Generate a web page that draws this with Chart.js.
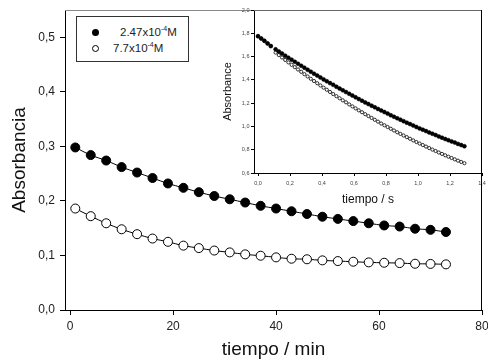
<!DOCTYPE html>
<html><head><meta charset="utf-8">
<script src="https://cdn.jsdelivr.net/npm/chart.js@4.4.1/dist/chart.umd.min.js"></script>
<style>
html,body{margin:0;padding:0;background:#fff;}
#wrap{position:relative;width:488px;height:362px;overflow:hidden;font-family:"Liberation Sans",Arial,sans-serif;color:#222;}
#main{position:absolute;left:0;top:0;}
#inset{position:absolute;left:200px;top:0;}
#legend{position:absolute;left:76px;top:16px;width:113px;height:46px;border:1px solid #333;box-sizing:border-box;background:#fff;}
.row{position:absolute;font-size:11.5px;line-height:12px;white-space:nowrap;}
.row sup{font-size:7px;vertical-align:5px;line-height:0;}
.mk{position:absolute;width:7px;height:7px;border-radius:50%;box-sizing:border-box;}
</style></head>
<body>
<div id="wrap">
  <canvas id="main" width="488" height="362"></canvas>
  <canvas id="inset" width="288" height="215"></canvas>
  <div id="legend">
    <div class="mk" style="left:15px;top:12px;background:#000;"></div>
    <div class="row" style="left:43px;top:9px;">2.47x10<sup>-4</sup>M</div>
    <div class="mk" style="left:15px;top:28px;border:1px solid #000;background:#fff;"></div>
    <div class="row" style="left:36px;top:25px;">7.7x10<sup>-4</sup>M</div>
  </div>
</div>
<script>
// ---- main chart data ----
const minutes = [1,4,7,10,13,16,19,22,25,28,31,34,37,40,43,46,49,52,55,58,61,64,67,70,73];
const abs247 = [0.298,0.284,0.274,0.262,0.252,0.242,0.232,0.224,0.216,0.209,0.203,0.197,0.191,0.186,0.181,0.176,0.171,0.167,0.163,0.159,0.155,0.153,0.149,0.147,0.143];
const abs77  = [0.186,0.172,0.159,0.148,0.139,0.131,0.125,0.118,0.1135,0.109,0.1056,0.102,0.0995,0.0965,0.094,0.093,0.091,0.0897,0.0885,0.0873,0.0866,0.086,0.0848,0.0845,0.0837];
const mainXTicks = [0,20,40,60,80];
const mainYTicks = [0,0.1,0.2,0.3,0.4,0.5];

// ---- inset data ----
const seconds = [0,0.02,0.04,0.06,0.08,
 0.11,0.13,0.15,0.17,0.19,0.21,0.23,0.25,0.27,0.29,0.31,0.33,0.35,0.37,0.39,
 0.41,0.43,0.45,0.47,0.49,0.51,0.53,0.55,0.57,0.59,0.61,0.63,0.65,0.67,0.69,
 0.71,0.73,0.75,0.77,0.79,0.81,0.83,0.85,0.87,0.89,0.91,0.93,0.95,0.97,0.99,
 1.01,1.03,1.05,1.07,1.09,1.11,1.13,1.15,1.17,1.19,1.21,1.23,1.25,1.27,1.29];
const insetFilled = [1.775,1.755,1.735,1.713,1.690,
 1.662,1.644,1.626,1.608,1.590,1.573,1.555,1.538,1.521,1.504,1.487,1.470,1.453,1.437,1.421,
 1.404,1.388,1.372,1.357,1.341,1.325,1.310,1.295,1.280,1.265,1.250,1.235,1.221,1.206,1.192,
 1.178,1.164,1.150,1.137,1.123,1.110,1.096,1.083,1.070,1.058,1.045,1.032,1.020,1.008,0.995,
 0.983,0.972,0.960,0.948,0.937,0.926,0.914,0.903,0.892,0.882,0.871,0.861,0.850,0.840,0.830];
const insetOpen = [1.775,1.755,1.735,1.713,1.690,
 1.634,1.613,1.592,1.571,1.550,1.529,1.509,1.489,1.469,1.449,1.429,1.409,1.390,1.371,1.352,
 1.333,1.315,1.296,1.278,1.260,1.242,1.224,1.207,1.189,1.172,1.155,1.138,1.122,1.105,1.089,
 1.073,1.057,1.041,1.025,1.010,0.995,0.980,0.965,0.950,0.936,0.922,0.908,0.894,0.880,0.866,
 0.853,0.840,0.827,0.814,0.801,0.789,0.776,0.764,0.752,0.740,0.729,0.717,0.706,0.695,0.684];
const insetXTicks = [0,0.2,0.4,0.6,0.8,1.0,1.2,1.4];
const insetYTicks = [0.6,0.8,1.0,1.2,1.4,1.6,1.8,2.0];

const FAM = '"Liberation Sans", Arial, sans-serif';
const fmt1 = v => Number(v).toFixed(1).replace('.', ',');
const fmt0 = v => String(Math.round(v));
const pts = (xs, ys) => xs.map((x, i) => ({x, y: ys[i]}));

const framePlugin = {
  id: 'frame',
  beforeDraw(chart, args, o) {
    if (o.fill) {
      const a = chart.chartArea, c = chart.ctx;
      c.save(); c.fillStyle = o.fill; c.fillRect(a.left, a.top, a.right - a.left, a.bottom - a.top); c.restore();
    }
  },
  afterDraw(chart, args, o) {
    const a = chart.chartArea, c = chart.ctx;
    c.save(); c.lineWidth = 1;
    c.strokeStyle = o.top; c.beginPath(); c.moveTo(a.left, a.top + 0.5); c.lineTo(a.right, a.top + 0.5); c.stroke();
    c.strokeStyle = o.right; c.beginPath(); c.moveTo(a.right - 0.5, a.top); c.lineTo(a.right - 0.5, a.bottom); c.stroke();
    c.restore();
  }
};

function axis(opts) {
  return {
    type: 'linear', min: opts.min, max: opts.max, position: opts.pos,
    afterBuildTicks: ax => { ax.ticks = opts.ticks.map(v => ({value: v})); },
    afterFit: ax => {
      if (opts.pos === 'left') ax.width = opts.size; else ax.height = opts.size;
      ax.paddingLeft = 0; ax.paddingRight = 0; ax.paddingTop = 0; ax.paddingBottom = 0;
    },
    ticks: { callback: opts.fmt, font: {size: opts.tickSize, family: FAM}, color: opts.tickColor, padding: opts.tickPad, maxRotation: 0, autoSkip: false },
    grid: { drawOnChartArea: false, tickLength: opts.tickLen, tickColor: '#000', tickWidth: 1 },
    border: { color: '#000', width: 1 },
    title: { display: true, text: opts.title, color: '#111', font: {size: opts.titleSize, family: FAM}, padding: opts.titlePad }
  };
}

new Chart(document.getElementById('main'), {
  type: 'scatter',
  data: { datasets: [
    { data: pts(minutes, abs247), showLine: true, borderColor: '#000', borderWidth: 1, tension: 0.4,
      pointRadius: 4.5, pointBackgroundColor: '#000', pointBorderColor: '#000', pointBorderWidth: 1 },
    { data: pts(minutes, abs77), showLine: true, borderColor: '#000', borderWidth: 1, tension: 0.4,
      pointRadius: 4.5, pointBackgroundColor: '#fff', pointBorderColor: '#000', pointBorderWidth: 1 }
  ]},
  options: {
    responsive: false, animation: false, events: [], devicePixelRatio: 1,
    layout: { padding: { top: 10, right: 6, left: 0, bottom: 0 } },
    plugins: { legend: {display: false}, tooltip: {enabled: false}, frame: { top: '#888', right: '#000' } },
    scales: {
      x: axis({min: -1, max: 80, pos: 'bottom', ticks: mainXTicks, fmt: fmt0, size: 52, tickSize: 12, tickColor: '#222', tickPad: 4, tickLen: 5,
               title: 'tiempo / min', titleSize: 19, titlePad: {top: 0, bottom: 0.5}}),
      y: axis({min: 0, max: 0.55, pos: 'left', ticks: mainYTicks, fmt: fmt1, size: 65, tickSize: 12, tickColor: '#222', tickPad: 5, tickLen: 5,
               title: 'Absorbancia', titleSize: 19, titlePad: {top: 8.6, bottom: 0}})
    }
  },
  plugins: [framePlugin]
});

new Chart(document.getElementById('inset'), {
  type: 'scatter',
  data: { datasets: [
    { data: pts(seconds, insetFilled), pointRadius: 2, pointBackgroundColor: '#000', pointBorderColor: '#000', pointBorderWidth: 0.5 },
    { data: pts(seconds, insetOpen), pointRadius: 1.6, pointBackgroundColor: '#fff', pointBorderColor: '#000', pointBorderWidth: 0.8 }
  ]},
  options: {
    responsive: false, animation: false, events: [], devicePixelRatio: 1,
    layout: { padding: { top: 10, right: 6, left: 0, bottom: 0 } },
    plugins: { legend: {display: false}, tooltip: {enabled: false}, frame: { top: '#666', right: '#000', fill: '#fff' } },
    scales: {
      x: axis({min: -0.025, max: 1.4, pos: 'bottom', ticks: insetXTicks, fmt: fmt1, size: 42, tickSize: 5.5, tickColor: '#444', tickPad: 4, tickLen: 3,
               title: 'tiempo / s', titleSize: 12, titlePad: {top: 0, bottom: 7.8}}),
      y: axis({min: 0.6, max: 2.0, pos: 'left', ticks: insetYTicks, fmt: fmt1, size: 54, tickSize: 5.5, tickColor: '#444', tickPad: 1.5, tickLen: 3,
               title: 'Absorbance', titleSize: 11, titlePad: {top: 21.4, bottom: 0}})
    }
  },
  plugins: [framePlugin]
});
</script>
</body></html>
